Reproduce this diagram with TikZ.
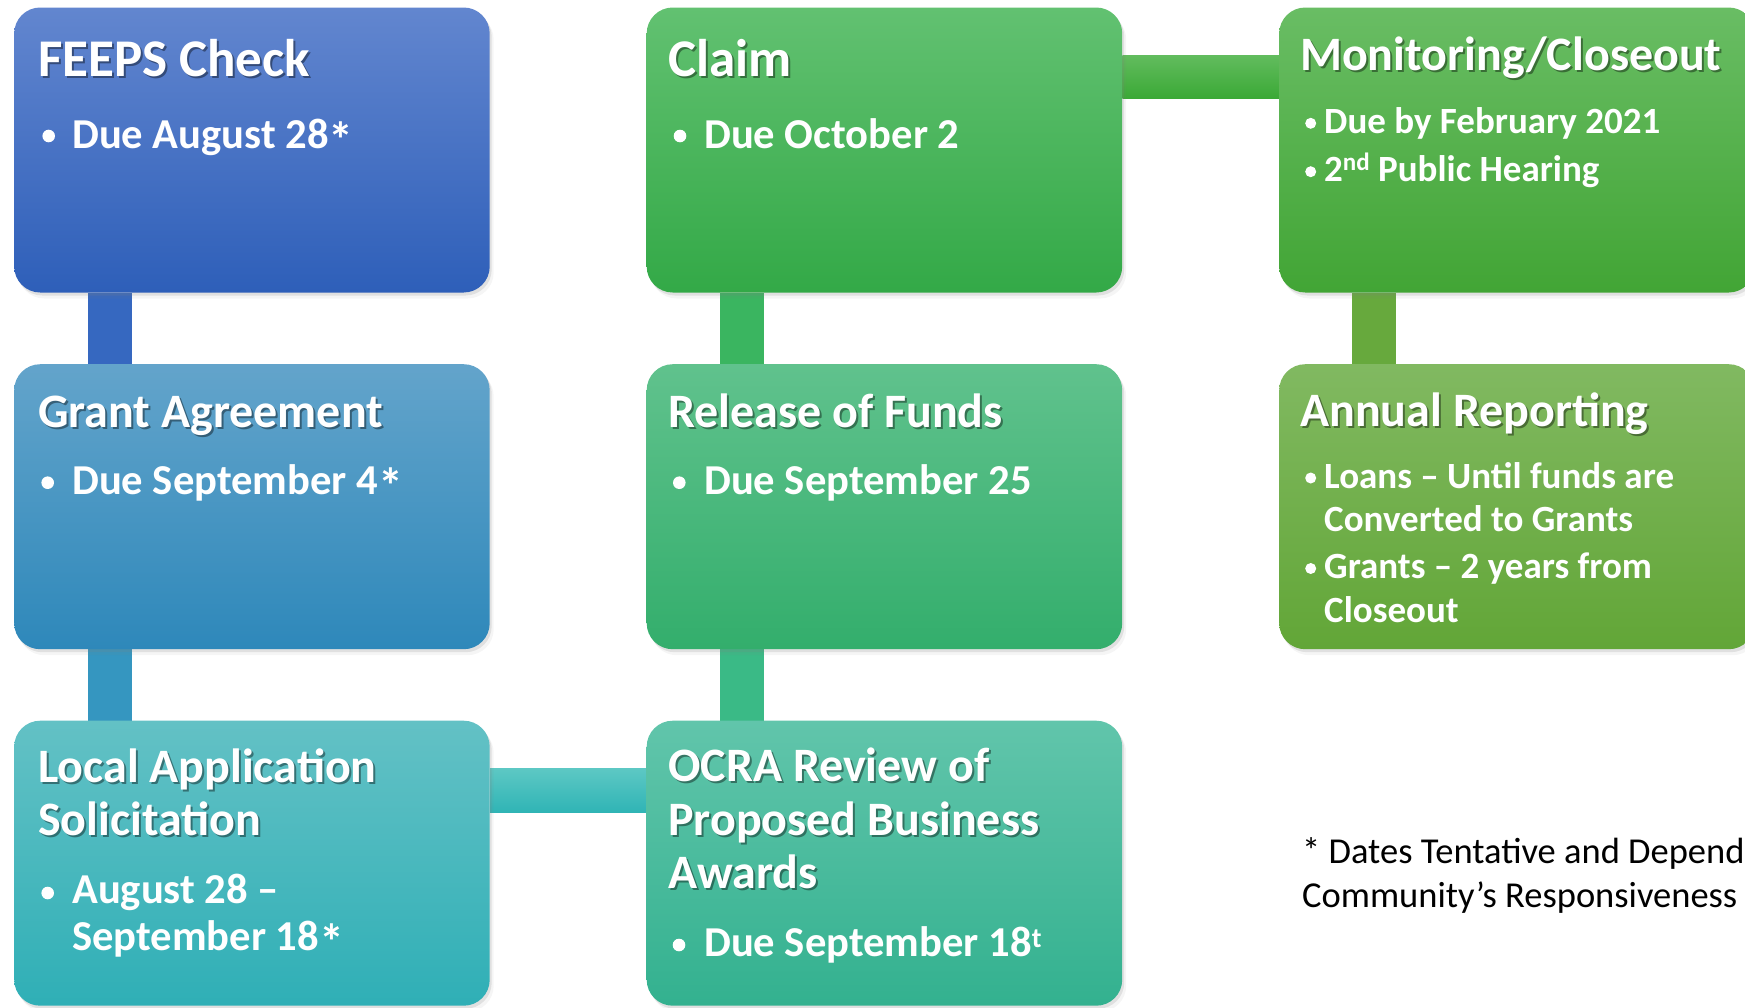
\documentclass[tikz,border=0pt]{standalone}
\usepackage{fontspec}
\setmainfont{Carlito}
\usetikzlibrary{shadows}
\pgfdeclarelayer{bg}
\pgfsetlayers{bg,main}
\definecolor{feepsT}{HTML}{6286CF}\definecolor{feepsB}{HTML}{2E5FB9}
\definecolor{grantT}{HTML}{63A4CB}\definecolor{grantB}{HTML}{2E88BA}
\definecolor{localT}{HTML}{63C1C5}\definecolor{localB}{HTML}{2FAFB6}
\definecolor{claimT}{HTML}{62C171}\definecolor{claimB}{HTML}{33A947}
\definecolor{relT}{HTML}{60C28D}\definecolor{relB}{HTML}{33AE6C}
\definecolor{ocraT}{HTML}{61C5AB}\definecolor{ocraB}{HTML}{33B18F}
\definecolor{monT}{HTML}{69BD64}\definecolor{monB}{HTML}{42A535}
\definecolor{annT}{HTML}{81B961}\definecolor{annB}{HTML}{62A637}
\definecolor{cA}{HTML}{3668C0}\definecolor{cB}{HTML}{3596C0}
\definecolor{cCt}{HTML}{5DC8C4}\definecolor{cCb}{HTML}{2FB4B5}
\definecolor{cD}{HTML}{3AB560}\definecolor{cE}{HTML}{3ABA86}
\definecolor{cFt}{HTML}{62BC5E}\definecolor{cFb}{HTML}{3BA936}
\definecolor{cG}{HTML}{67A93D}
\newcommand\mysup[3]{\raisebox{#1}{\fontsize{#2}{#2}\selectfont #3}}
\newcommand\myast{\raisebox{-9pt}{\fontsize{50}{50}\selectfont *}}
\newcommand\ttl[5][]{%
  \node[ttl,#1,text=black,text opacity=0.4] (#2s) at (#3+2,#4+2) {#5};
  \node[ttl,#1] (#2) at (#3,#4) {#5};}
\tikzset{
  box/.style={rounded corners=26pt, minimum width=475.5pt, minimum height=285pt,
    inner sep=0pt, anchor=north west,
    drop shadow={shadow xshift=2pt, shadow yshift=-3pt, opacity=0.18},
    drop shadow={shadow xshift=4pt, shadow yshift=-6pt, opacity=0.08}},
  ttl/.style={font=\bfseries\fontsize{48}{48}\selectfont, text=white, anchor=base west, inner sep=0pt},
  big/.style={font=\bfseries\fontsize{53}{53}\selectfont},
  blt/.style={font=\bfseries\fontsize{42.6}{42.6}\selectfont, text=white, anchor=base west, inner sep=0pt},
  bltc/.style={font=\bfseries\fontsize{37}{37}\selectfont, text=white, anchor=base west, inner sep=0pt},
  note/.style={font=\fontsize{36.5}{36.5}\selectfont, text=black, anchor=base west, inner sep=0pt},
  vconn/.style={line width=44.3pt},
}
\begin{document}
\begin{tikzpicture}[x=1pt,y=-1pt]
\useasboundingbox (0,0) rectangle (1745,1007);
\clip (0,0) rectangle (1745,1007);
% boxes
\node[box, top color=feepsT, bottom color=feepsB] (feeps) at (14,7.3) {};
\node[box, top color=grantT, bottom color=grantB] (grant) at (14,364) {};
\node[box, top color=localT, bottom color=localB] (local) at (14,720.5) {};
\node[box, top color=claimT, bottom color=claimB] (claim) at (646.5,7.3) {};
\node[box, top color=relT, bottom color=relB] (release) at (646.5,364) {};
\node[box, top color=ocraT, bottom color=ocraB] (ocra) at (646.5,720.5) {};
\node[box, top color=monT, bottom color=monB] (monitor) at (1279,7.3) {};
\node[box, top color=annT, bottom color=annB] (annual) at (1279,364) {};
% connectors
\begin{pgfonlayer}{bg}
\draw[vconn, draw=cA] ([xshift=95.8pt]feeps.south west) -- ([xshift=95.8pt]grant.north west);
\draw[vconn, draw=cB] ([xshift=95.8pt]grant.south west) -- ([xshift=95.8pt]local.north west);
\shade[top color=cCt, bottom color=cCb] ([yshift=-47.8pt]local.north east) rectangle ([yshift=-92pt]ocra.north west);
\draw[vconn, draw=cE] ([xshift=95.5pt]ocra.north west) -- ([xshift=95.5pt]release.south west);
\draw[vconn, draw=cD] ([xshift=95.5pt]release.north west) -- ([xshift=95.5pt]claim.south west);
\shade[top color=cFt, bottom color=cFb] ([yshift=-47.7pt]claim.north east) rectangle ([yshift=-91pt]monitor.north west);
\draw[vconn, draw=cG] ([xshift=94.7pt]monitor.south west) -- ([xshift=94.7pt]annual.north west);
\end{pgfonlayer}
% FEEPS
\ttl[big]{t1}{38}{76}{FEEPS Check}
\fill[white] (48.7,136) circle[radius=6.3pt];
\node[blt] (b1) at (72,148.3) {Due August 28\myast};
% Grant
\ttl{t2}{38}{427.3}{Grant Agreement}
\fill[white] (47.7,482.7) circle[radius=6.3pt];
\node[blt] (b2) at (72,494) {Due September 4\myast};
% Local
\ttl{t3a}{38}{782.7}{Local Application}
\ttl{t3b}{38}{835}{Solicitation}
\fill[white] (47.7,893) circle[radius=6.3pt];
\node[blt] (b3a) at (72,903.3) {August 28 –};
\node[blt] (b3b) at (72,950.7) {September 18\myast};
% Claim
\ttl[big]{t4}{668}{76}{Claim}
\fill[white] (680,136) circle[radius=6.3pt];
\node[blt] (b4) at (704,148.3) {Due October 2};
% Release
\ttl{t5}{668}{427.3}{Release of Funds}
\fill[white] (679.3,482.7) circle[radius=6.3pt];
\node[blt] (b5) at (704,494) {Due September 25};
% OCRA
\ttl{t6a}{668}{781.7}{OCRA Review of}
\ttl{t6b}{668}{835}{Proposed Business}
\ttl{t6c}{668}{888.3}{Awards}
\fill[white] (679,945) circle[radius=6.3pt];
\node[blt] (b6) at (704,956.7) {Due September 18\mysup{9pt}{28}{t}};
% Monitoring
\ttl{t7}{1300}{70}{Monitoring/Closeout}
\fill[white] (1310.7,123.3) circle[radius=5.5pt];
\node[bltc] (b7a) at (1324,133.3) {Due by February 2021};
\fill[white] (1310.7,171.7) circle[radius=5.5pt];
\node[bltc] (b7b) at (1324,181.7) {2\mysup{11pt}{25}{nd} Public Hearing};
% Annual
\ttl{t8}{1300}{426.7}{Annual Reporting}
\fill[white] (1310.7,478) circle[radius=5.5pt];
\node[bltc] (b8a) at (1324,488.3) {Loans – Until funds are};
\node[bltc] (b8b) at (1324,531.7) {Converted to Grants};
\fill[white] (1310.7,568.5) circle[radius=5.5pt];
\node[bltc] (b8c) at (1324,578.8) {Grants – 2 years from};
\node[bltc] (b8d) at (1324,622) {Closeout};
% footnote
\node[note] (n1) at (1302,863.3) {* Dates Tentative and Dependent on};
\node[note] (n2) at (1302,907.3) {Community’s Responsiveness};
\end{tikzpicture}
\end{document}
